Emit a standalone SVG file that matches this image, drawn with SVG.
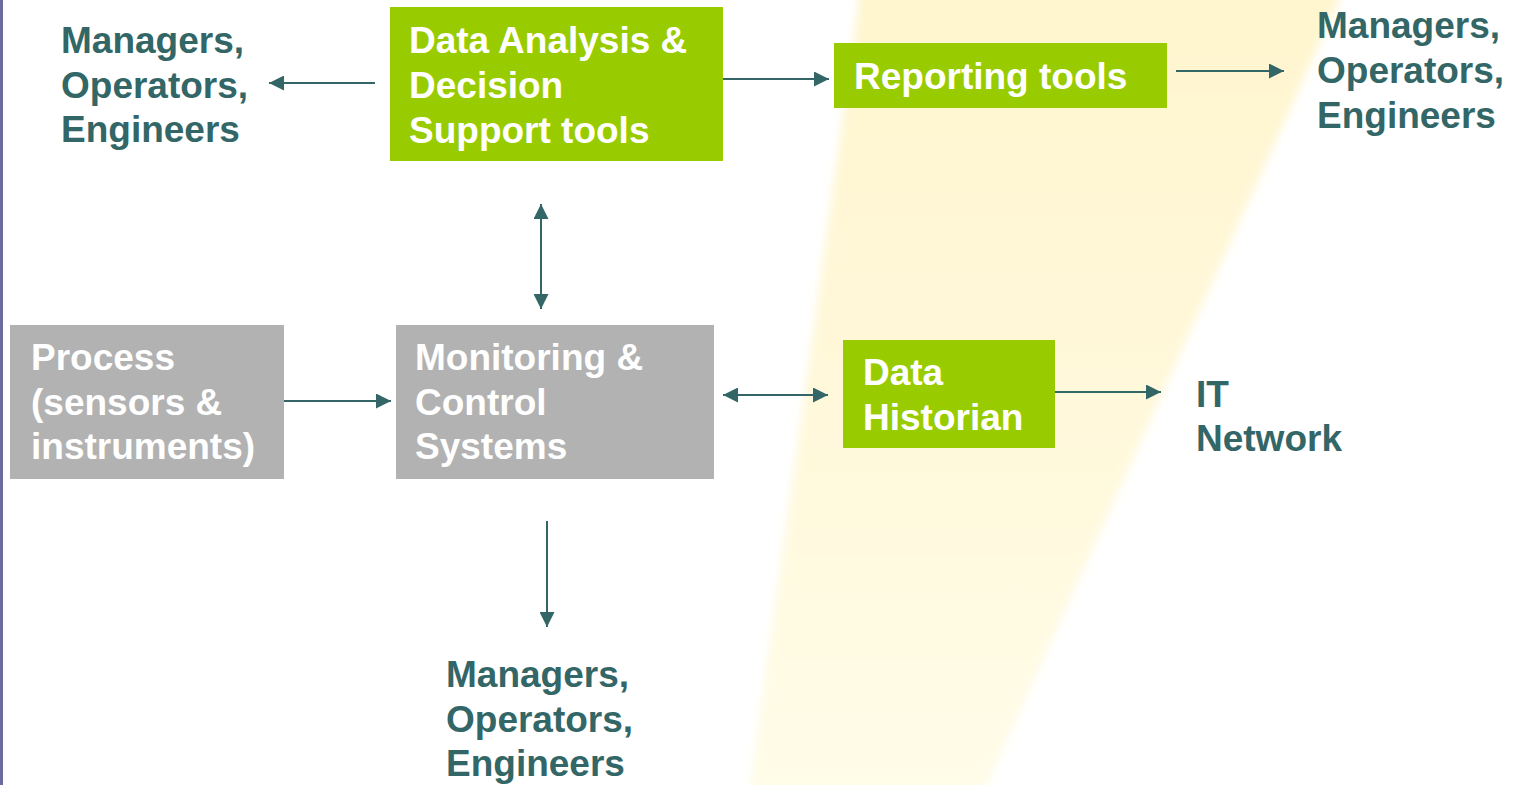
<svg xmlns="http://www.w3.org/2000/svg" width="1519" height="785" viewBox="0 0 1519 785">
  <style>
    .lbl { font-family: "Liberation Sans", Arial, sans-serif; font-weight: bold; font-size: 37px; }
    .dark { fill: #336666; }
    .white { fill: #FFFFFF; }
    .green { fill: #99CC00; }
    .gray { fill: #B2B2B2; }
    .conn { stroke: #336666; stroke-width: 2; fill: none; }
  </style>
  <defs>
    <linearGradient id="wedgeGrad" x1="0" y1="0" x2="0" y2="1">
      <stop offset="0" stop-color="#FFF5CE"/>
      <stop offset="0.5" stop-color="#FFF8DA"/>
      <stop offset="1" stop-color="#FFFCE8"/>
    </linearGradient>
    <filter id="soft" x="-10%" y="-10%" width="120%" height="120%">
      <feGaussianBlur stdDeviation="5"/>
    </filter>
    <marker id="arrow" viewBox="0 0 15 15" refX="15" refY="7.5" markerWidth="15" markerHeight="15" markerUnits="userSpaceOnUse" orient="auto-start-reverse">
      <path d="M0,0 L15,7.5 L0,15 z" fill="#336666"/>
    </marker>
  </defs>

  <rect x="0" y="0" width="1519" height="785" fill="#FFFFFF"/>
  <polygon points="862,-20 1348,-20 980,800 748,800" fill="url(#wedgeGrad)" filter="url(#soft)"/>
  <rect x="0" y="0" width="3" height="785" fill="#6B6BA0"/>

  <g id="connectors">
    <line class="conn" x1="375" y1="83" x2="269" y2="83" marker-end="url(#arrow)"/>
    <line class="conn" x1="722" y1="79" x2="829" y2="79" marker-end="url(#arrow)"/>
    <line class="conn" x1="1176" y1="71" x2="1284" y2="71" marker-end="url(#arrow)"/>
    <line class="conn" x1="541" y1="204" x2="541" y2="309" marker-start="url(#arrow)" marker-end="url(#arrow)"/>
    <line class="conn" x1="284" y1="401" x2="391" y2="401" marker-end="url(#arrow)"/>
    <line class="conn" x1="723" y1="395" x2="828" y2="395" marker-start="url(#arrow)" marker-end="url(#arrow)"/>
    <line class="conn" x1="1055" y1="392" x2="1161" y2="392" marker-end="url(#arrow)"/>
    <line class="conn" x1="547" y1="521" x2="547" y2="627" marker-end="url(#arrow)"/>
  </g>

  <g id="users-left">
    <text class="lbl dark"><tspan x="61" y="53">Managers,</tspan><tspan x="61" y="97.5">Operators,</tspan><tspan x="61" y="142">Engineers</tspan></text>
  </g>

  <g id="data-analysis">
    <rect class="green" x="390" y="7" width="333" height="154"/>
    <text class="lbl white"><tspan x="409" y="53">Data Analysis &amp;</tspan><tspan x="409" y="98">Decision</tspan><tspan x="409" y="142.5">Support tools</tspan></text>
  </g>

  <g id="reporting-tools">
    <rect class="green" x="834" y="43" width="333" height="65"/>
    <text class="lbl white" x="854" y="88.5">Reporting tools</text>
  </g>

  <g id="users-right">
    <text class="lbl dark"><tspan x="1317" y="38">Managers,</tspan><tspan x="1317" y="82.5">Operators,</tspan><tspan x="1317" y="127.5">Engineers</tspan></text>
  </g>

  <g id="process">
    <rect class="gray" x="10" y="325" width="274" height="154"/>
    <text class="lbl white"><tspan x="31" y="370">Process</tspan><tspan x="31" y="414.5">(sensors &amp;</tspan><tspan x="31" y="459">instruments)</tspan></text>
  </g>

  <g id="monitoring-control">
    <rect class="gray" x="396" y="325" width="318" height="154"/>
    <text class="lbl white"><tspan x="415" y="370">Monitoring &amp;</tspan><tspan x="415" y="414.5">Control</tspan><tspan x="415" y="459">Systems</tspan></text>
  </g>

  <g id="data-historian">
    <rect class="green" x="843" y="340" width="212" height="108"/>
    <text class="lbl white"><tspan x="863" y="385">Data</tspan><tspan x="863" y="430">Historian</tspan></text>
  </g>

  <g id="it-network">
    <text class="lbl dark"><tspan x="1196" y="407">IT</tspan><tspan x="1196" y="451">Network</tspan></text>
  </g>

  <g id="users-bottom">
    <text class="lbl dark"><tspan x="446" y="687">Managers,</tspan><tspan x="446" y="731.5">Operators,</tspan><tspan x="446" y="776">Engineers</tspan></text>
  </g>
</svg>
